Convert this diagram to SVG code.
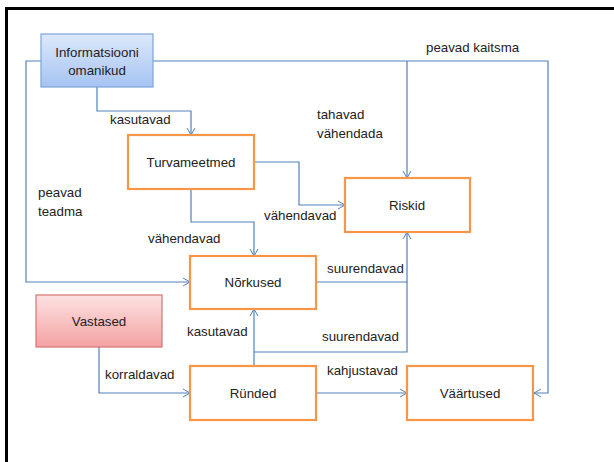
<svg xmlns="http://www.w3.org/2000/svg" width="614" height="462" viewBox="0 0 614 462">
<defs>
<linearGradient id="gBlue" x1="0" y1="0" x2="0" y2="1"><stop offset="0" stop-color="#dde9fb"/><stop offset="1" stop-color="#a5c3f2"/></linearGradient>
<linearGradient id="gRed" x1="0" y1="0" x2="0" y2="1"><stop offset="0" stop-color="#fde2e2"/><stop offset="1" stop-color="#f4a2a2"/></linearGradient>
<marker id="arr" markerWidth="10" markerHeight="10" refX="8" refY="5" orient="auto" markerUnits="userSpaceOnUse"><path d="M1,1 L8,5 L1,9" fill="none" stroke="#4f81bd" stroke-width="1"/></marker>
<style>
text{font-family:"Liberation Sans",Arial,sans-serif;font-size:13.3px;fill:#222}
.n text{text-anchor:middle}
.box{fill:#fff;stroke:#f79646;stroke-width:2.2}
.c path{fill:none;stroke:#4f81bd;stroke-width:1.2}
.c .a{marker-end:url(#arr)}
</style>
</defs>
<rect x="0" y="0" width="614" height="462" fill="#fff"/>
<path d="M6.5,462 V8.5 H614" fill="none" stroke="#000" stroke-width="3"/>
<g id="connectors" class="c">
<path class="a" d="M41,61 H26 V282 H190"/>
<path class="a" d="M153,61 H548 V393 H534"/>
<path class="a" d="M407,61 V178"/>
<path class="a" d="M97,87 V111 H191 V135"/>
<path class="a" d="M254,162 H299 V205 H345"/>
<path class="a" d="M191,189 V222 H254 V256"/>
<path class="a" d="M316,282 H407 V232"/>
<path class="a" d="M254,366 V309"/>
<path d="M254,352 H407 V282"/>
<path class="a" d="M99,347 V393 H190"/>
<path class="a" d="M316,393 H407"/>
</g>
<g id="labels">
<text x="426" y="52">peavad kaitsma</text>
<text x="317" y="119">tahavad</text>
<text x="317" y="138">vähendada</text>
<text x="110" y="124">kasutavad</text>
<text x="38" y="197">peavad</text>
<text x="38" y="216">teadma</text>
<text x="264" y="220">vähendavad</text>
<text x="148" y="243">vähendavad</text>
<text x="327" y="273">suurendavad</text>
<text x="187" y="336">kasutavad</text>
<text x="322" y="341">suurendavad</text>
<text x="105" y="379">korraldavad</text>
<text x="327" y="375">kahjustavad</text>
</g>
<g id="info" class="n"><rect x="41" y="34" width="112" height="53" fill="url(#gBlue)" stroke="#7ea3d9" stroke-width="1.2"/><text x="97" y="57">Informatsiooni</text><text x="97" y="75">omanikud</text></g>
<g id="turvameetmed" class="n"><rect class="box" x="128" y="135" width="126" height="54"/><text x="191" y="167">Turvameetmed</text></g>
<g id="riskid" class="n"><rect class="box" x="345" y="178" width="125" height="54"/><text x="407" y="210">Riskid</text></g>
<g id="norkused" class="n"><rect class="box" x="190" y="256" width="126" height="53"/><text x="253" y="287">Nõrkused</text></g>
<g id="vastased" class="n"><rect x="36" y="295" width="126" height="52" fill="url(#gRed)" stroke="#d67474" stroke-width="1.2"/><text x="99" y="326">Vastased</text></g>
<g id="runded" class="n"><rect class="box" x="190" y="366" width="126" height="54"/><text x="253" y="398">Ründed</text></g>
<g id="vaartused" class="n"><rect class="box" x="407" y="366" width="126" height="54"/><text x="470" y="398">Väärtused</text></g>
</svg>
